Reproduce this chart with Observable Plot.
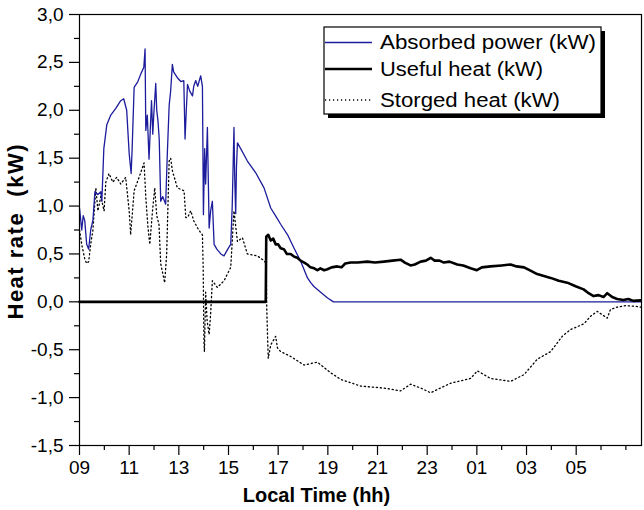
<!DOCTYPE html>
<html>
<head>
<meta charset="utf-8">
<script src="https://cdn.jsdelivr.net/npm/d3@7"></script>
<script src="https://cdn.jsdelivr.net/npm/@observablehq/plot@0.6"></script>
<style>
  html, body { margin: 0; padding: 0; background: #fff; }
  #wrap { position: relative; width: 644px; height: 510px; }
  #legend { position: absolute; left: 0; top: 0; pointer-events: none; }
</style>
</head>
<body>
<div id="wrap"></div>
<script>
// ---------- data (hours since midnight of day 1; >24 = next day) ----------
const absorbedHour = [9.0,9.09,9.15,9.21,9.29,9.37,9.45,9.54,9.62,9.74,9.86,9.9,9.98,10.1,10.26,10.46,10.66,10.78,10.9,11.0,11.08,11.12,11.2,11.35,11.47,11.59,11.64,11.67,11.73,11.8,11.85,11.9,11.95,11.99,12.07,12.11,12.16,12.21,12.27,12.35,12.47,12.53,12.61,12.67,12.74,12.79,12.94,13.08,13.2,13.25,13.3,13.35,13.44,13.55,13.6,13.68,13.76,13.88,13.95,13.99,14.04,14.08,14.15,14.22,14.28,14.35,14.42,14.53,14.69,14.82,14.97,15.09,15.15,15.22,15.25,15.29,15.32,15.36,15.49,15.76,16.09,16.43,16.7,16.94,17.1,17.38,17.64,17.91,18.18,18.31,18.44,18.71,18.99,19.23,31.63];
const absorbedKW   = [0.98,0.75,0.9,0.85,0.6,0.55,0.75,0.85,1.15,1.12,1.15,1.05,1.6,1.85,1.95,2.02,2.1,2.12,2.0,1.55,1.34,1.6,2.24,2.3,2.38,2.45,2.64,1.79,1.95,1.49,1.8,2.1,1.75,1.95,2.28,2.0,1.89,1.7,1.05,1.1,1.02,1.5,2.05,2.2,2.48,2.4,2.34,2.3,2.31,1.7,2.0,2.27,2.2,2.15,2.25,2.31,2.25,2.36,2.25,0.91,1.6,1.23,1.82,0.77,0.95,1.05,0.6,0.55,0.5,0.48,0.55,0.6,1.0,1.82,1.3,0.92,1.4,1.66,1.6,1.47,1.35,1.19,0.98,0.88,0.81,0.7,0.56,0.42,0.25,0.2,0.16,0.1,0.04,0.0,0.0];

const usefulHour = [9.0,16.5,16.52,16.6,16.7,16.8,16.9,17.0,17.1,17.23,17.35,17.5,17.65,17.77,17.9,18.05,18.17,18.3,18.45,18.58,18.7,18.85,18.98,19.15,19.38,19.55,19.7,19.92,20.2,20.59,20.9,21.26,21.6,21.93,22.1,22.33,22.5,22.74,22.95,23.14,23.3,23.5,23.67,23.9,24.21,24.45,24.75,25.0,25.2,25.55,26.0,26.36,26.6,26.9,27.2,27.43,27.7,27.97,28.3,28.64,29.0,29.3,29.5,29.7,29.9,30.1,30.25,30.45,30.65,30.9,31.1,31.3,31.6];
const usefulKW   = [0,0,0.68,0.7,0.64,0.66,0.6,0.6,0.56,0.55,0.5,0.5,0.47,0.46,0.43,0.41,0.39,0.36,0.35,0.33,0.35,0.33,0.34,0.36,0.37,0.36,0.4,0.41,0.41,0.42,0.41,0.42,0.43,0.44,0.41,0.38,0.39,0.42,0.43,0.46,0.43,0.43,0.41,0.42,0.39,0.38,0.35,0.33,0.36,0.37,0.38,0.39,0.37,0.36,0.32,0.29,0.27,0.25,0.22,0.2,0.16,0.13,0.09,0.06,0.07,0.05,0.09,0.05,0.03,0.02,0.03,0.01,0.015];

const storedHour = [9.0,9.09,9.21,9.29,9.37,9.45,9.54,9.66,9.74,9.86,9.99,10.06,10.19,10.34,10.5,10.66,10.86,11.0,11.06,11.2,11.4,11.6,11.67,11.75,11.83,11.94,12.03,12.11,12.2,12.27,12.35,12.43,12.51,12.61,12.67,12.74,12.94,13.21,13.28,13.35,13.48,13.61,13.8,13.95,13.98,14.01,14.03,14.08,14.14,14.22,14.28,14.35,14.55,14.82,15.09,15.22,15.36,15.56,15.76,16.16,16.43,16.52,16.54,16.57,16.6,16.7,16.9,16.97,17.1,17.5,18.04,18.58,19.11,19.52,20.32,21.26,21.93,22.33,22.74,23.14,23.94,24.75,25.02,25.55,26.36,26.9,27.43,27.97,28.44,28.77,29.31,29.58,29.85,30.25,30.38,30.65,30.98,31.32,31.6];
const storedKW   = [0.75,0.6,0.45,0.4,0.42,0.6,0.75,1.19,0.95,1.1,0.95,1.25,1.34,1.25,1.3,1.23,1.3,0.95,0.7,1.16,1.3,1.45,1.09,0.8,0.6,0.95,1.19,0.9,0.81,0.4,0.3,0.2,0.5,1.47,1.5,1.37,1.19,1.16,0.88,0.88,0.95,0.84,0.75,0.7,0.36,-0.41,-0.52,0.1,-0.2,-0.34,-0.13,0.22,0.15,0.22,0.36,0.95,0.63,0.67,0.5,0.48,0.43,0.4,-0.06,-0.34,-0.59,-0.45,-0.36,-0.48,-0.52,-0.57,-0.66,-0.63,-0.74,-0.81,-0.88,-0.9,-0.93,-0.86,-0.9,-0.95,-0.85,-0.8,-0.72,-0.8,-0.83,-0.76,-0.6,-0.52,-0.36,-0.29,-0.23,-0.15,-0.1,-0.17,-0.08,-0.055,-0.04,-0.045,-0.055];

const xMajorTicks  = [9,11,13,15,17,19,21,23,25,27,29];
const xTickLabels  = ["09","11","13","15","17","19","21","23","01","03","05"];
const xMinorTicks  = [10,12,14,16,18,20,22,24,26,28,30,31];
const yMajorTicks  = [-1.5,-1.0,-0.5,0.0,0.5,1.0,1.5,2.0,2.5,3.0];
const yTickLabels  = ["-1,5","-1,0","-0,5","0,0","0,5","1,0","1,5","2,0","2,5","3,0"];
const yMinorTicks  = [-1.25,-0.75,-0.25,0.25,0.75,1.25,1.75,2.25,2.75];

const seriesNames  = ["Absorbed power (kW)","Useful heat (kW)","Storged heat (kW)"];
const xTitle = "Local Time (hh)";
const yTitle = "Heat rate  (kW)";

// ---------- tables ----------
const absorbed = absorbedHour.map((h,i)=>({h, v: absorbedKW[i]}));
const useful   = usefulHour.map((h,i)=>({h, v: usefulKW[i]}));
const stored   = storedHour.map((h,i)=>({h, v: storedKW[i]}));

const FONT = "'Liberation Sans', Arial, sans-serif";
const BLUE = "#1c1c9c";

const chart = Plot.plot({
  width: 644,
  height: 510,
  marginLeft: 79,
  marginRight: 3,
  marginTop: 14,
  marginBottom: 65,
  style: {fontFamily: FONT, fontSize: "19px", color: "#000", background: "#fff", overflow: "visible"},
  x: {domain: [9, 31.63]},
  y: {domain: [-1.5, 3.0]},
  marks: [
    Plot.line(stored,   {x: "h", y: "v", stroke: "#000", strokeWidth: 1.3, strokeDasharray: "1.2,2.8"}),
    Plot.line(absorbed, {x: "h", y: "v", stroke: BLUE, strokeWidth: 1.3}),
    Plot.line(useful,   {x: "h", y: "v", stroke: "#000", strokeWidth: 2.6}),
    Plot.frame({stroke: "#000", strokeWidth: 1.2}),
    Plot.axisX({ticks: xMajorTicks, tickSize: 10, tickPadding: 5, fontSize: 19,
      tickFormat: d => xTickLabels[xMajorTicks.indexOf(d)], label: null, strokeWidth: 1.2}),
    Plot.axisX({ticks: xMinorTicks, tickSize: 5, tickFormat: null, text: null, label: null, strokeWidth: 1.2}),
    Plot.axisY({ticks: yMajorTicks, tickSize: 10, tickPadding: 6, fontSize: 19,
      tickFormat: d => yTickLabels[yMajorTicks.indexOf(d)], label: null, strokeWidth: 1.2}),
    Plot.axisY({ticks: yMinorTicks, tickSize: 5, tickFormat: null, text: null, label: null, strokeWidth: 1.2}),
    Plot.text([xTitle], {frameAnchor: "bottom", text: d => d, dx: -44, dy: 50, fontSize: 20, fontWeight: "bold", lineAnchor: "middle", textAnchor: "middle"}),
    Plot.text([yTitle], {frameAnchor: "left", text: d => d, dx: -64, dy: 2, rotate: -90, fontSize: 22, fontWeight: "bold", lineAnchor: "middle", textAnchor: "middle"})
  ]
});

// stretch the y-axis title to the reference length
chart.querySelectorAll("text").forEach(t => {
  if (t.textContent === yTitle) {
    t.setAttribute("textLength", 175);
    t.setAttribute("lengthAdjust", "spacing");
  }
});

const wrap = document.getElementById("wrap");
wrap.appendChild(chart);

// ---------- legend overlay ----------
const ns = "http://www.w3.org/2000/svg";
const lg = document.createElementNS(ns, "svg");
lg.setAttribute("id", "legend");
lg.setAttribute("width", 644);
lg.setAttribute("height", 510);
const L = {x: 324, y: 27, w: 277, h: 87};
function el(tag, attrs, txt) {
  const e = document.createElementNS(ns, tag);
  for (const k in attrs) e.setAttribute(k, attrs[k]);
  if (txt) e.textContent = txt;
  lg.appendChild(e);
  return e;
}
el("rect", {x: L.x + 4, y: L.y + 4, width: L.w, height: L.h, fill: "#000"});
el("rect", {x: L.x, y: L.y, width: L.w, height: L.h, fill: "#fff", stroke: "#000", "stroke-width": 1.2});
const rows = [
  {y: 42.5, stroke: BLUE, sw: 1.3, dash: null, len: 216},
  {y: 69,   stroke: "#000", sw: 2.6, dash: null, len: 163},
  {y: 100,  stroke: "#000", sw: 1.3, dash: "1.2,2.8", len: 180}
];
rows.forEach((r, i) => {
  const a = {x1: L.x + 1, x2: 372, y1: r.y, y2: r.y, stroke: r.stroke, "stroke-width": r.sw};
  if (r.dash) a["stroke-dasharray"] = r.dash;
  el("line", a);
  el("text", {x: 380, y: r.y + 6.5, "font-family": FONT, "font-size": 19.5, fill: "#000",
    textLength: r.len, lengthAdjust: "spacingAndGlyphs"}, seriesNames[i]);
});
wrap.appendChild(lg);
</script>
</body>
</html>
